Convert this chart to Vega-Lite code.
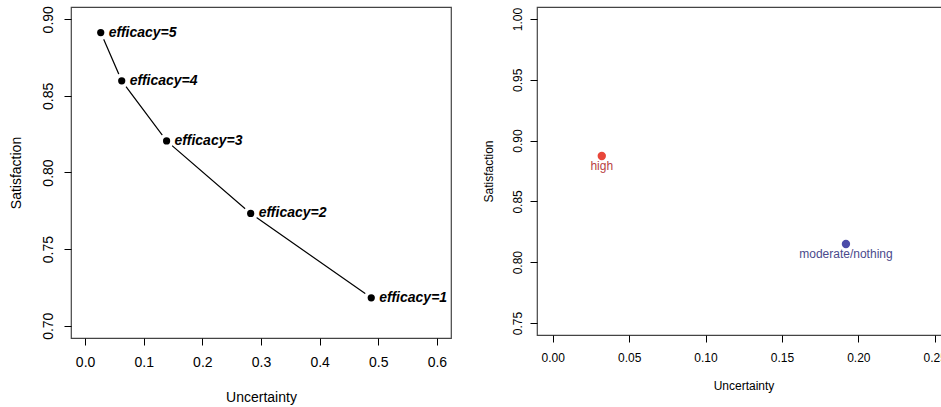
{
  "$schema": "https://vega.github.io/schema/vega-lite/v6.json",
  "padding": {"left": 8, "top": 5, "right": 0, "bottom": 0},
  "background": "white",
  "config": {
    "font": "Liberation Sans",
    "view": {"stroke": "#444", "strokeWidth": 1.2},
    "axis": {"grid": false, "domain": false, "tickColor": "#000", "tickSize": 7, "labelColor": "#000", "titleColor": "#000", "titleFontWeight": "normal", "labelFont": "Liberation Sans", "titleFont": "Liberation Sans"}
  },
  "spacing": 29,
  "hconcat": [
    {
      "width": 380,
      "height": 331,
      "data": {"values": [
        {"u": 0.0267, "s": 0.8913, "label": "efficacy=5", "order": 5},
        {"u": 0.0625, "s": 0.8598, "label": "efficacy=4", "order": 4},
        {"u": 0.139, "s": 0.8206, "label": "efficacy=3", "order": 3},
        {"u": 0.2824, "s": 0.7733, "label": "efficacy=2", "order": 2},
        {"u": 0.488, "s": 0.7182, "label": "efficacy=1", "order": 1}
      ]},
      "encoding": {
        "x": {"field": "u", "type": "quantitative", "title": "Uncertainty",
          "scale": {"domain": [-0.024, 0.624], "nice": false, "zero": false},
          "axis": {"values": [0, 0.1, 0.2, 0.3, 0.4, 0.5, 0.6], "format": ".1f", "labelFontSize": 14, "titleFontSize": 14, "labelPadding": 10, "titlePadding": 21, "labelFlush": false}},
        "y": {"field": "s", "type": "quantitative", "title": "Satisfaction",
          "scale": {"domain": [0.692, 0.908], "nice": false, "zero": false},
          "axis": {"values": [0.7, 0.75, 0.8, 0.85, 0.9], "format": ".2f", "labelFontSize": 14, "titleFontSize": 14, "labelAngle": -90, "labelAlign": "center", "labelBaseline": "alphabetic", "labelPadding": 12, "titlePadding": 18, "labelFlush": false}}
      },
      "layer": [
        {"mark": {"type": "line", "color": "#000", "strokeWidth": 1.2}, "encoding": {"order": {"field": "order"}}},
        {"mark": {"type": "circle", "color": "white", "opacity": 1, "size": 220}},
        {"mark": {"type": "circle", "color": "#000", "opacity": 1, "size": 52}},
        {"mark": {"type": "text", "align": "left", "baseline": "middle", "dx": 8, "fontSize": 14, "fontWeight": "bold", "fontStyle": "italic", "font": "Liberation Sans", "color": "#000"}, "encoding": {"text": {"field": "label"}}}
      ]
    },
    {
      "width": 413,
      "height": 328,
      "data": {"values": [
        {"u": 0.0321, "s": 0.8873, "group": "high"},
        {"u": 0.1919, "s": 0.815, "group": "moderate/nothing"}
      ]},
      "encoding": {
        "x": {"field": "u", "type": "quantitative", "title": "Uncertainty",
          "scale": {"domain": [-0.0103, 0.26], "nice": false, "zero": false},
          "axis": {"values": [0, 0.05, 0.1, 0.15, 0.2, 0.25], "format": ".2f", "labelFontSize": 12, "titleFontSize": 12, "labelPadding": 10, "titlePadding": 17, "labelFlush": false}},
        "y": {"field": "s", "type": "quantitative", "title": "Satisfaction",
          "scale": {"domain": [0.7401, 1.0099], "nice": false, "zero": false},
          "axis": {"values": [0.75, 0.8, 0.85, 0.9, 0.95, 1.0], "format": ".2f", "labelFontSize": 12, "titleFontSize": 12, "labelAngle": -90, "labelAlign": "center", "labelBaseline": "alphabetic", "labelPadding": 9, "titlePadding": 16, "labelFlush": false}}
      },
      "layer": [
        {"mark": {"type": "circle", "opacity": 1, "size": 70},
          "encoding": {"color": {"field": "group", "type": "nominal", "legend": null,
            "scale": {"domain": ["high", "moderate/nothing"], "range": ["#E8463A", "#4B4BA8"]}}}},
        {"mark": {"type": "text", "align": "center", "baseline": "top", "dy": 5, "fontSize": 12, "fontWeight": "normal", "font": "Liberation Sans", "stroke": null},
          "encoding": {"text": {"field": "group"}, "color": {"field": "group", "type": "nominal", "legend": null,
            "scale": {"domain": ["high", "moderate/nothing"], "range": ["#B84242", "#4A4A8C"]}}}}
      ],
      "resolve": {"scale": {"color": "independent"}}
    }
  ],
  "resolve": {"scale": {"color": "independent"}}
}
